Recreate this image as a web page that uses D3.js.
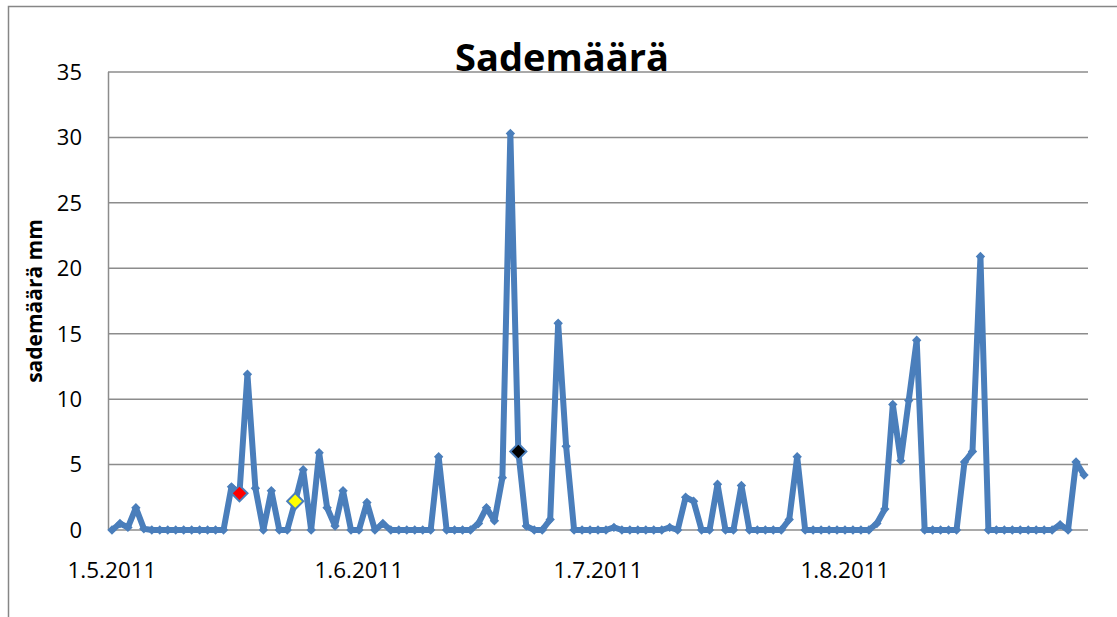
<!DOCTYPE html>
<html>
<head>
<meta charset="utf-8">
<script src="https://cdn.jsdelivr.net/npm/d3@7"></script>
<style>
  body { margin: 0; background: #fff; }
  text { font-family: "Open Sans", sans-serif; fill: #000; }
</style>
</head>
<body>
<script>
// daily rainfall, mm
const mayValues = [0, 0.5, 0.2, 1.7, 0.1, 0, 0, 0, 0, 0, 0, 0, 0, 0, 0,
  3.3, 2.8, 11.9, 3.2, 0, 3.0, 0, 0, 2.2, 4.6, 0, 5.9, 1.7, 0.3, 3.0, 0]
const juneValues = [0, 2.1, 0, 0.5, 0, 0, 0, 0, 0, 0, 5.6, 0, 0, 0, 0,
  0.5, 1.7, 0.7, 4.0, 30.3, 6.0, 0.3, 0, 0, 0.8, 15.8, 6.4, 0, 0, 0]
const julyValues = [0, 0, 0.2, 0, 0, 0, 0, 0, 0, 0.2, 0, 2.5, 2.2, 0, 0,
  3.5, 0, 0, 3.4, 0, 0, 0, 0, 0, 0.8, 5.6, 0, 0, 0, 0, 0]
const augustValues = [0, 0, 0, 0, 0.5, 1.6, 9.6, 5.3, 9.9, 14.5, 0, 0, 0, 0, 0,
  5.2, 6.0, 20.9, 0, 0, 0, 0, 0, 0, 0, 0, 0, 0.4, 0, 5.2, 4.2]

const days = d3.timeDay.range(new Date(2011, 4, 1), new Date(2011, 8, 1))
const values = [...mayValues, ...juneValues, ...julyValues, ...augustValues]
const tickDates = [new Date(2011, 4, 1), new Date(2011, 5, 1), new Date(2011, 6, 1), new Date(2011, 7, 1)]
const yTicks = [0, 5, 10, 15, 20, 25, 30, 35]
const highlights = [
  { date: new Date(2011, 4, 17), color: '#ff0000' },
  { date: new Date(2011, 4, 24), color: '#ffff00' },
  { date: new Date(2011, 5, 21), color: '#000000' }
]

const data = days.map((d, i) => ({ date: d, value: values[i] }))
const fmt = d3.timeFormat('%-d.%-m.%Y')
const key = d => +d

const svg = d3.select('body').append('svg')
  .attr('width', 1117)
  .attr('height', 617)

// chart border (right and bottom fall outside the picture)
svg.append('rect')
  .attr('x', 8.5).attr('y', 6.5)
  .attr('width', 1120).attr('height', 620)
  .attr('fill', 'none')
  .attr('stroke', '#868686')
  .attr('stroke-width', 1.5)

const x = d3.scalePoint()
  .domain(days.map(key))
  .range([108, 1088])
  .padding(0.5)

const y = d3.scaleLinear()
  .domain([0, 35])
  .range([530, 72])

// gridlines
svg.append('g')
  .selectAll('line')
  .data(yTicks)
  .enter()
  .append('line')
  .attr('x1', 108).attr('x2', 1088)
  .attr('y1', d => y(d)).attr('y2', d => y(d))
  .attr('stroke', '#8c8c8c')
  .attr('stroke-width', 1.5)

svg.append('line')
  .attr('x1', 108.5).attr('x2', 108.5)
  .attr('y1', y(35)).attr('y2', y(0))
  .attr('stroke', '#8c8c8c')
  .attr('stroke-width', 1.5)

// y tick labels
svg.append('g')
  .selectAll('text')
  .data(yTicks)
  .enter()
  .append('text')
  .attr('x', 82)
  .attr('y', d => y(d))
  .attr('dy', '0.36em')
  .attr('text-anchor', 'end')
  .style('font-size', '22px')
  .text(d => d)

// x tick labels
svg.append('g')
  .selectAll('text')
  .data(tickDates)
  .enter()
  .append('text')
  .attr('x', d => x(key(d)))
  .attr('y', 578)
  .attr('text-anchor', 'middle')
  .style('font-size', '22.5px')
  .text(d => fmt(d))

// axis title
svg.append('text')
  .attr('transform', `translate(42,${(y(0) + y(35)) / 2}) rotate(-90)`)
  .attr('text-anchor', 'middle')
  .style('font-size', '21px')
  .style('font-weight', 'bold')
  .text('sademäärä mm')

const line = d3.line()
  .x(d => x(key(d.date)))
  .y(d => y(d.value))

svg.append('path')
  .datum(data)
  .attr('d', line)
  .attr('fill', 'none')
  .attr('stroke', '#4a7ebb')
  .attr('stroke-width', 6)
  .attr('stroke-linejoin', 'round')

const diamond = size => d3.symbol(d3.symbolSquare, size)()

svg.append('g')
  .selectAll('path')
  .data(data)
  .enter()
  .append('path')
  .attr('d', diamond(44))
  .attr('transform', d => `translate(${x(key(d.date))},${y(d.value)}) rotate(45)`)
  .attr('fill', '#4a7ebb')

svg.append('g')
  .selectAll('path')
  .data(highlights)
  .enter()
  .append('path')
  .attr('d', diamond(130))
  .attr('transform', d => {
    const v = data.find(p => +p.date === +d.date).value
    return `translate(${x(key(d.date))},${y(v)}) rotate(45)`
  })
  .attr('fill', d => d.color)
  .attr('stroke', '#4a7ebb')
  .attr('stroke-width', 2)

// title
svg.append('text')
  .attr('x', 562)
  .attr('y', 71)
  .attr('text-anchor', 'middle')
  .style('font-size', '38px')
  .style('font-weight', 'bold')
  .text('Sademäärä')
</script>
</body>
</html>
